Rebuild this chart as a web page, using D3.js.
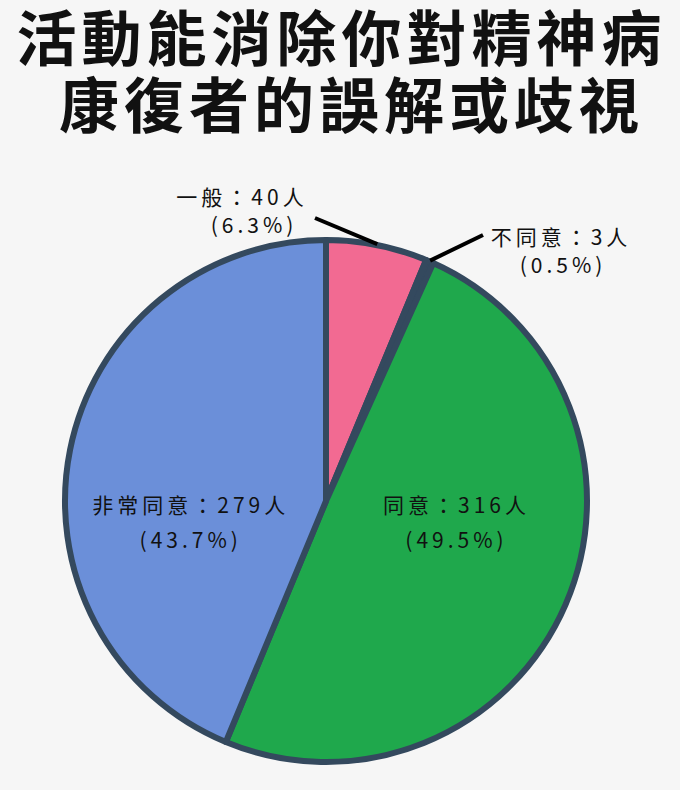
<!DOCTYPE html>
<html>
<head>
<meta charset="utf-8">
<script src="https://cdn.jsdelivr.net/npm/d3@7/dist/d3.min.js"></script>
<style>
  html, body { margin: 0; padding: 0; background: #f6f6f6; }
  svg { display: block; }
  text { font-family: "Noto Sans CJK TC", "Noto Sans CJK SC", "Noto Sans", sans-serif; fill: #111; }
</style>
</head>
<body>
<svg id="chart" width="680" height="790"></svg>
<script>
// ---- data ----
const titleLines = ["活動能消除你對精神病", "康復者的誤解或歧視"];
const categories = ["一般", "不同意", "同意", "非常同意"];
const counts = [40, 3, 316, 279];
const unit = "人";
const colors = ["#f26a92", "#34495e", "#1fa84c", "#6b8fd9"];

// ---- layout ----
const W = 680, H = 790;
const cx = 326, cy = 501, R = 261;
const svg = d3.select("#chart");
svg.append("rect").attr("width", W).attr("height", H).attr("fill", "#f6f6f6");

// title (one text element, two lines)
const tfs = 60, tls = 5;
const titleX = [339, 349], titleY = [34, 101];
const title = svg.append("text")
  .attr("text-anchor", "middle").attr("dominant-baseline", "central")
  .attr("font-size", tfs).attr("font-weight", 700)
  .attr("letter-spacing", tls);
titleLines.forEach((line, i) => {
  title.append("tspan")
    .attr("x", titleX[i] + tls / 2).attr("y", titleY[i])
    .text(line);
});

const total = d3.sum(counts);
const rows = categories.map((c, i) => ({ cat: c, value: counts[i], color: colors[i] }));
const pie = d3.pie().sort(null).value(d => d.value).startAngle(0).endAngle(2 * Math.PI);
const arcs = pie(rows);
const arc = d3.arc().innerRadius(0).outerRadius(R);

const g = svg.append("g").attr("transform", `translate(${cx},${cy})`);
g.selectAll("path.slice")
  .data(arcs)
  .join("path")
  .attr("class", "slice")
  .attr("d", arc)
  .attr("fill", d => d.data.color)
  .attr("stroke", "#34495e")
  .attr("stroke-width", 6)
  .attr("stroke-linejoin", "round");

const pct = v => (v / total * 100).toFixed(1) + "%";
const fs = 21, ls = 4;

// inner labels for large slices
const innerArc = d3.arc().innerRadius(140).outerRadius(140);
const inner = arcs.filter(d => d.value / total > 0.1);
inner.forEach(d => {
  const [x] = innerArc.centroid(d);
  const t = g.append("text")
    .attr("text-anchor", "middle")
    .attr("font-size", fs)
    .attr("letter-spacing", ls)
    .attr("dominant-baseline", "central");
  t.append("tspan").attr("x", x + ls / 2).attr("y", 3).text(`${d.data.cat}：${d.data.value}${unit}`);
  t.append("tspan").attr("x", x + ls / 2).attr("y", 38).text(`(${pct(d.data.value)})`);
});

// outer labels for small slices with leader lines
const outerLayout = {
  "一般":   { lx: -11, ly: -283 },
  "不同意": { lx: 157, ly: -266 }
};
const outerArc = d3.arc().innerRadius(R + 1).outerRadius(R + 1);
arcs.filter(d => d.value / total <= 0.1).forEach(d => {
  const L = outerLayout[d.data.cat];
  const [sx, sy] = outerArc.centroid(d);
  g.append("line")
    .attr("x1", sx).attr("y1", sy)
    .attr("x2", L.lx).attr("y2", L.ly)
    .attr("stroke", "#000").attr("stroke-width", 4).attr("stroke-linecap", "butt");
});
// label text blocks
const outerText = {
  "一般":   { x1: -86, y1: -305, x2: -74, y2: -277 },
  "不同意": { x1: 233, y1: -265, x2: 235, y2: -237 }
};
arcs.filter(d => d.value / total <= 0.1).forEach(d => {
  const T = outerText[d.data.cat];
  g.append("text")
    .attr("x", T.x1 + ls / 2).attr("y", T.y1)
    .attr("text-anchor", "middle").attr("dominant-baseline", "central")
    .attr("font-size", fs).attr("letter-spacing", ls)
    .text(`${d.data.cat}：${d.data.value}${unit}`);
  g.append("text")
    .attr("x", T.x2 + ls / 2).attr("y", T.y2)
    .attr("text-anchor", "middle").attr("dominant-baseline", "central")
    .attr("font-size", fs).attr("letter-spacing", ls)
    .text(`(${pct(d.data.value)})`);
});
</script>
</body>
</html>
